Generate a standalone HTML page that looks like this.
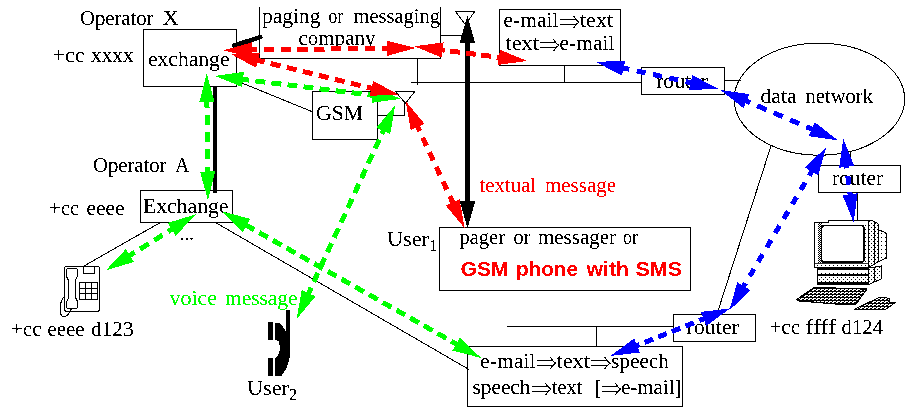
<!DOCTYPE html>
<html><head><meta charset="utf-8"><style>
html,body{margin:0;padding:0;background:#fff;}
svg{display:block;}
</style></head><body>
<svg width="918" height="419" viewBox="0 0 918 419" shape-rendering="crispEdges">
<rect x="143.5" y="29.5" width="93.0" height="57.0" fill="none" stroke="#000" stroke-width="1"/>
<line x1="259.5" y1="7" x2="259.5" y2="58.5" stroke="#000" stroke-width="1" />
<line x1="440.5" y1="7" x2="440.5" y2="58.5" stroke="#000" stroke-width="1" />
<line x1="259" y1="58.5" x2="441" y2="58.5" stroke="#000" stroke-width="1" />
<line x1="440" y1="35.5" x2="463" y2="35.5" stroke="#000" stroke-width="1" />
<polygon points="455.60,11.50 474.80,11.50 465.30,24.50" fill="none" stroke="#000" stroke-width="1"/>
<line x1="417.5" y1="58.5" x2="417.5" y2="84.5" stroke="#000" stroke-width="1" />
<line x1="411" y1="82.5" x2="641.5" y2="82.5" stroke="#000" stroke-width="1" />
<rect x="499.5" y="9.5" width="121.0" height="56.0" fill="none" stroke="#000" stroke-width="1"/>
<line x1="564.5" y1="65.5" x2="564.5" y2="82.5" stroke="#000" stroke-width="1" />
<rect x="641.5" y="67.5" width="83.0" height="27.0" fill="none" stroke="#000" stroke-width="1"/>
<line x1="724.5" y1="80.5" x2="740.8" y2="80.5" stroke="#000" stroke-width="1" />
<ellipse cx="819.4" cy="99.2" rx="85.3" ry="56" fill="none" stroke="#000" stroke-width="1"/>
<line x1="770.9" y1="146.2" x2="716.9" y2="314.3" stroke="#000" stroke-width="1" />
<line x1="850.5" y1="151.8" x2="850.5" y2="165.7" stroke="#000" stroke-width="1" />
<rect x="818.5" y="165.5" width="82.0" height="27.0" fill="none" stroke="#000" stroke-width="1"/>
<line x1="857.5" y1="192.5" x2="857.5" y2="221" stroke="#000" stroke-width="1" />
<rect x="673.5" y="314.5" width="82.0" height="26.5" fill="none" stroke="#000" stroke-width="1"/>
<line x1="507" y1="326.5" x2="673.5" y2="326.5" stroke="#000" stroke-width="1" />
<line x1="596.5" y1="326.5" x2="596.5" y2="346.6" stroke="#000" stroke-width="1" />
<rect x="467.5" y="346.5" width="215.0" height="60.0" fill="none" stroke="#000" stroke-width="1"/>
<rect x="439.5" y="227.5" width="251.0" height="63.0" fill="none" stroke="#000" stroke-width="1"/>
<rect x="312.5" y="91.5" width="65.0" height="48.0" fill="none" stroke="#000" stroke-width="1"/>
<polygon points="395.40,91.50 414.80,91.50 405.50,103.30" fill="none" stroke="#000" stroke-width="1"/>
<line x1="404.5" y1="103.3" x2="404.5" y2="115.5" stroke="#000" stroke-width="1" />
<line x1="377.5" y1="115.5" x2="404.5" y2="115.5" stroke="#000" stroke-width="1" />
<line x1="236.5" y1="80.8" x2="312" y2="111.6" stroke="#000" stroke-width="1" />
<rect x="140.5" y="190.5" width="92.0" height="32.0" fill="none" stroke="#000" stroke-width="1"/>
<line x1="160.3" y1="222.5" x2="83.7" y2="266.2" stroke="#000" stroke-width="1" />
<line x1="216" y1="222.8" x2="469" y2="369.5" stroke="#000" stroke-width="1" />

<defs>
<pattern id="dots" x="0" y="0" width="4" height="4" patternUnits="userSpaceOnUse">
<rect x="1" y="1" width="1" height="1" fill="#000"/>
</pattern>
<pattern id="dots2" x="0" y="0" width="4" height="4" patternUnits="userSpaceOnUse">
<rect x="1" y="1" width="1" height="1" fill="#000"/><rect x="3" y="3" width="1" height="1" fill="#000"/>
</pattern>
<pattern id="bevel" x="0" y="0" width="2" height="2" patternUnits="userSpaceOnUse">
<rect x="0" y="0" width="2" height="2" fill="#fff"/><rect x="0" y="0" width="1" height="1" fill="#000"/><rect x="1" y="1" width="1" height="1" fill="#000"/>
</pattern>
<pattern id="hatch" x="0" y="0" width="4" height="3" patternUnits="userSpaceOnUse">
<rect x="0" y="0" width="4" height="3" fill="#fff"/><rect x="0" y="0" width="4" height="1" fill="#000"/><rect x="0" y="1" width="1" height="1" fill="#000"/><rect x="2" y="2" width="1" height="1" fill="#000"/><rect x="3" y="2" width="1" height="1" fill="#000"/>
</pattern>
</defs>
<!-- phone -->
<g fill="none" stroke="#000" stroke-width="1.1">
<rect x="64.6" y="266.6" width="35" height="44.6" rx="1.5"/>
<rect x="83.8" y="266.6" width="10.4" height="6.8"/>
<path d="M79.8 282.8 H97.2 V299.4 H79.8 Z M85.6 282.8 V299.4 M91.4 282.8 V299.4 M79.8 288.4 H97.2 M79.8 293.9 H97.2"/>
<path d="M67.5 268.6 H76.6 Q77.8 268.8 77.8 270.5 L77.6 276 L75.6 279.5 L75.4 297.5 L77.4 301 L77.6 306.8 Q77.4 308.6 75.8 308.6 H68.2 Q66.6 308.4 66.6 306.6 L66.8 301.5 L68.2 298.6 L68.2 280 L66.6 276.4 L66.6 270.2 Q66.8 268.6 67.5 268.6 Z"/>
<path d="M64.6 296.2 C59 301 58.5 316.5 63.8 316.8 C67.5 317 69.8 312.5 71.4 308.8"/>
</g>
<!-- handset user2 -->
<g fill="#000">
<rect x="268" y="322" width="5" height="17.8"/>
<rect x="268" y="358" width="5" height="17.8"/>
<rect x="286.1" y="310.4" width="3.6" height="28"/>
<path d="M275 322.6 H279.8 L286 331.5 L289.6 337.5 L289.6 357 Q288.5 367 281.5 375.8 H275 V358 Q278.6 356 279.6 351 Q280 345 278.6 341.5 Q277 339.6 275 339.4 Z"/>
</g>
<!-- computer -->
<g stroke="#000">
<!-- monitor side -->
<path d="M868.5 220.5 H872 L874.7 222.2 L876.8 222.9 L878.6 224.3 V261.5 L868.5 267.5 Z" fill="url(#dots2)" stroke-width="1"/>
<line x1="874.7" y1="222" x2="874.7" y2="264" stroke-width="1"/>
<!-- monitor back -->
<path d="M878.6 230.4 H880 L883.6 231.8 L886.5 233.2 V258 L878.6 261.5 Z" fill="url(#dots)" stroke-width="1"/>
<!-- bezel -->
<path d="M814.5 222 H828 V220.5 H868.5 V267.5 H814.5 Z" fill="#fff" stroke-width="1"/>
<rect x="818" y="223" width="46" height="3" fill="url(#dots)" stroke="none"/>
<rect x="818" y="223" width="3.5" height="40" fill="url(#bevel)" stroke="none"/>
<rect x="864.5" y="223" width="3.5" height="40" fill="url(#dots)" stroke="none"/>
<path d="M824 225.5 H861 Q864 225.5 864 228.5 V259 Q864 262 861 262 H824 Q821.5 262 821.5 259 V228.5 Q821.5 225.5 824 225.5 Z" fill="#fff" stroke-width="1.6"/>
<rect x="815" y="263.6" width="53" height="3.6" fill="url(#dots)" stroke="none"/>
<line x1="814.5" y1="263.5" x2="868.5" y2="263.5" stroke-width="0.8"/>
<!-- base unit -->
<path d="M868.1 268.2 L881 266 V279 L868.1 284.7 Z" fill="url(#dots2)" stroke-width="1"/>
<line x1="874.5" y1="267.5" x2="874.5" y2="282" stroke-width="1"/>
<rect x="817.5" y="268.2" width="50.6" height="16.2" fill="#fff" stroke-width="1"/>
<rect x="817.5" y="268" width="50.6" height="2.4" fill="#000" stroke="none"/>
<rect x="818" y="270.4" width="50" height="4" fill="url(#dots)" stroke="none"/>
<rect x="817.5" y="274.2" width="50.6" height="2" fill="#000" stroke="none"/>
<rect x="818" y="276.2" width="50" height="6" fill="url(#dots2)" stroke="none"/>
<rect x="817.5" y="282.2" width="50.6" height="2.2" fill="#000" stroke="none"/>
<!-- keyboard -->
<path d="M814.2 287.4 L866.9 289.1 L855.5 304.7 L844 304.7 L798.3 300.8 L797 299.3 Z" fill="url(#hatch)" stroke-width="1.2"/>
<!-- mouse pad -->
<path d="M854.2 309.5 H885.3 L895.8 302.3 H889.5 V299 L886 297.8 H878.2 Z" fill="url(#hatch)" stroke-width="1"/>
</g>

<defs><filter id="th" x="0" y="0" width="918" height="419" filterUnits="userSpaceOnUse"><feComponentTransfer><feFuncA type="discrete" tableValues="0 0 0 0 0 0 0 0 0 1 1 1 1 1 1 1 1 1 1 1"/></feComponentTransfer></filter></defs><g filter="url(#th)">
<text x="80.0" y="25" font-family="Liberation Serif" font-size="20" font-weight="normal" fill="#000" textLength="73.5" lengthAdjust="spacingAndGlyphs" >Operator</text>
<text x="162.5" y="25" font-family="Liberation Serif" font-size="20" font-weight="normal" fill="#000" textLength="16.5" lengthAdjust="spacingAndGlyphs" >X</text>
<text x="52.5" y="62" font-family="Liberation Serif" font-size="20" font-weight="normal" fill="#000" textLength="32.0" lengthAdjust="spacingAndGlyphs" >+cc</text>
<text x="91.0" y="62" font-family="Liberation Serif" font-size="20" font-weight="normal" fill="#000" textLength="42.5" lengthAdjust="spacingAndGlyphs" >xxxx</text>
<text x="148.0" y="65.6" font-family="Liberation Serif" font-size="20" font-weight="normal" fill="#000" textLength="81.5" lengthAdjust="spacingAndGlyphs" >exchange</text>
<text x="262.0" y="23.3" font-family="Liberation Serif" font-size="20" font-weight="normal" fill="#000" textLength="58.5" lengthAdjust="spacingAndGlyphs" >paging</text>
<text x="328.5" y="23.3" font-family="Liberation Serif" font-size="20" font-weight="normal" fill="#000" textLength="14.5" lengthAdjust="spacingAndGlyphs" >or</text>
<text x="353.5" y="23.3" font-family="Liberation Serif" font-size="20" font-weight="normal" fill="#000" textLength="86.5" lengthAdjust="spacingAndGlyphs" >messaging</text>
<text x="298.5" y="45.3" font-family="Liberation Serif" font-size="20" font-weight="normal" fill="#000" textLength="77.0" lengthAdjust="spacingAndGlyphs" >company</text>
<text x="503.5" y="26.9" font-family="Liberation Serif" font-size="20" font-weight="normal" fill="#000" textLength="55.0" lengthAdjust="spacingAndGlyphs" >e-mail</text>
<text x="580.0" y="26.9" font-family="Liberation Serif" font-size="20" font-weight="normal" fill="#000" textLength="33.0" lengthAdjust="spacingAndGlyphs" >text</text>
<text x="505.5" y="49.9" font-family="Liberation Serif" font-size="20" font-weight="normal" fill="#000" textLength="33.5" lengthAdjust="spacingAndGlyphs" >text</text>
<text x="559.5" y="49.9" font-family="Liberation Serif" font-size="20" font-weight="normal" fill="#000" textLength="55.0" lengthAdjust="spacingAndGlyphs" >e-mail</text>
<text x="656.0" y="88" font-family="Liberation Serif" font-size="20" font-weight="normal" fill="#000" textLength="52.0" lengthAdjust="spacingAndGlyphs" >router</text>
<text x="760.5" y="103" font-family="Liberation Serif" font-size="20" font-weight="normal" fill="#000" textLength="36.0" lengthAdjust="spacingAndGlyphs" >data</text>
<text x="805.5" y="103" font-family="Liberation Serif" font-size="20" font-weight="normal" fill="#000" textLength="67.5" lengthAdjust="spacingAndGlyphs" >network</text>
<text x="832.0" y="185.2" font-family="Liberation Serif" font-size="20" font-weight="normal" fill="#000" textLength="51.0" lengthAdjust="spacingAndGlyphs" >router</text>
<text x="769.5" y="333.5" font-family="Liberation Serif" font-size="20" font-weight="normal" fill="#000" textLength="30.5" lengthAdjust="spacingAndGlyphs" >+cc</text>
<text x="805.5" y="333.5" font-family="Liberation Serif" font-size="20" font-weight="normal" fill="#000" textLength="30.5" lengthAdjust="spacingAndGlyphs" >ffff</text>
<text x="841.5" y="333.5" font-family="Liberation Serif" font-size="20" font-weight="normal" fill="#000" textLength="41.5" lengthAdjust="spacingAndGlyphs" >d124</text>
<text x="686.5" y="334.2" font-family="Liberation Serif" font-size="20" font-weight="normal" fill="#000" textLength="52.5" lengthAdjust="spacingAndGlyphs" >router</text>
<text x="480.0" y="367.5" font-family="Liberation Serif" font-size="20" font-weight="normal" fill="#000" textLength="55.5" lengthAdjust="spacingAndGlyphs" >e-mail</text>
<text x="556.5" y="367.5" font-family="Liberation Serif" font-size="20" font-weight="normal" fill="#000" textLength="33.5" lengthAdjust="spacingAndGlyphs" >text</text>
<text x="611.0" y="367.5" font-family="Liberation Serif" font-size="20" font-weight="normal" fill="#000" textLength="58.0" lengthAdjust="spacingAndGlyphs" >speech</text>
<text x="472.5" y="393.5" font-family="Liberation Serif" font-size="20" font-weight="normal" fill="#000" textLength="58.0" lengthAdjust="spacingAndGlyphs" >speech</text>
<text x="552.0" y="393.5" font-family="Liberation Serif" font-size="20" font-weight="normal" fill="#000" textLength="30.0" lengthAdjust="spacingAndGlyphs" >text</text>
<text x="594.5" y="393.5" font-family="Liberation Serif" font-size="20" font-weight="normal" fill="#000" textLength="7.0" lengthAdjust="spacingAndGlyphs" >[</text>
<text x="621.0" y="393.5" font-family="Liberation Serif" font-size="20" font-weight="normal" fill="#000" textLength="60.5" lengthAdjust="spacingAndGlyphs" >e-mail]</text>
<text x="387.0" y="246" font-family="Liberation Serif" font-size="20" font-weight="normal" fill="#000" textLength="42.0" lengthAdjust="spacingAndGlyphs" >User</text>
<text x="429.0" y="250.8" font-family="Liberation Serif" font-size="17.5" font-weight="normal" fill="#000" textLength="8.0" lengthAdjust="spacingAndGlyphs" >1</text>
<text x="459.5" y="244" font-family="Liberation Serif" font-size="20" font-weight="normal" fill="#000" textLength="45.5" lengthAdjust="spacingAndGlyphs" >pager</text>
<text x="513.5" y="244" font-family="Liberation Serif" font-size="20" font-weight="normal" fill="#000" textLength="17.0" lengthAdjust="spacingAndGlyphs" >or</text>
<text x="538.0" y="244" font-family="Liberation Serif" font-size="20" font-weight="normal" fill="#000" textLength="78.0" lengthAdjust="spacingAndGlyphs" >messager</text>
<text x="623.0" y="244" font-family="Liberation Serif" font-size="20" font-weight="normal" fill="#000" textLength="15.0" lengthAdjust="spacingAndGlyphs" >or</text>
<text x="460.5" y="275.6" font-family="Liberation Sans" font-size="20" font-weight="bold" fill="#ff0000" textLength="48.0" lengthAdjust="spacingAndGlyphs" >GSM</text>
<text x="516.0" y="275.6" font-family="Liberation Sans" font-size="20" font-weight="bold" fill="#ff0000" textLength="62.0" lengthAdjust="spacingAndGlyphs" >phone</text>
<text x="586.5" y="275.6" font-family="Liberation Sans" font-size="20" font-weight="bold" fill="#ff0000" textLength="42.5" lengthAdjust="spacingAndGlyphs" >with</text>
<text x="635.5" y="275.6" font-family="Liberation Sans" font-size="20" font-weight="bold" fill="#ff0000" textLength="46.5" lengthAdjust="spacingAndGlyphs" >SMS</text>
<text x="479.5" y="192" font-family="Liberation Serif" font-size="20" font-weight="normal" fill="#ff0000" textLength="56.5" lengthAdjust="spacingAndGlyphs" >textual</text>
<text x="545.0" y="192" font-family="Liberation Serif" font-size="20" font-weight="normal" fill="#ff0000" textLength="71.0" lengthAdjust="spacingAndGlyphs" >message</text>
<text x="316.0" y="119.6" font-family="Liberation Serif" font-size="20" font-weight="normal" fill="#000" textLength="47.0" lengthAdjust="spacingAndGlyphs" >GSM</text>
<text x="93.0" y="171.8" font-family="Liberation Serif" font-size="20" font-weight="normal" fill="#000" textLength="73.5" lengthAdjust="spacingAndGlyphs" >Operator</text>
<text x="175.0" y="171.8" font-family="Liberation Serif" font-size="20" font-weight="normal" fill="#000" textLength="14.5" lengthAdjust="spacingAndGlyphs" >A</text>
<text x="49.0" y="215" font-family="Liberation Serif" font-size="20" font-weight="normal" fill="#000" textLength="30.0" lengthAdjust="spacingAndGlyphs" >+cc</text>
<text x="86.5" y="215" font-family="Liberation Serif" font-size="20" font-weight="normal" fill="#000" textLength="38.0" lengthAdjust="spacingAndGlyphs" >eeee</text>
<text x="143.0" y="213" font-family="Liberation Serif" font-size="20" font-weight="normal" fill="#000" textLength="85.5" lengthAdjust="spacingAndGlyphs" >Exchange</text>
<text x="180.0" y="240" font-family="Liberation Serif" font-size="20" font-weight="normal" fill="#000" textLength="14.0" lengthAdjust="spacingAndGlyphs" >...</text>
<text x="11.0" y="336.3" font-family="Liberation Serif" font-size="20" font-weight="normal" fill="#000" textLength="30.5" lengthAdjust="spacingAndGlyphs" >+cc</text>
<text x="47.5" y="336.3" font-family="Liberation Serif" font-size="20" font-weight="normal" fill="#000" textLength="37.0" lengthAdjust="spacingAndGlyphs" >eeee</text>
<text x="91.0" y="336.3" font-family="Liberation Serif" font-size="20" font-weight="normal" fill="#000" textLength="42.5" lengthAdjust="spacingAndGlyphs" >d123</text>
<text x="169.5" y="304.8" font-family="Liberation Serif" font-size="20" font-weight="normal" fill="#00ff00" textLength="47.5" lengthAdjust="spacingAndGlyphs" >voice</text>
<text x="225.0" y="304.8" font-family="Liberation Serif" font-size="20" font-weight="normal" fill="#00ff00" textLength="72.5" lengthAdjust="spacingAndGlyphs" >message</text>
<text x="247.0" y="395" font-family="Liberation Serif" font-size="20" font-weight="normal" fill="#000" textLength="42.0" lengthAdjust="spacingAndGlyphs" >User</text>
<text x="289.0" y="399.8" font-family="Liberation Serif" font-size="17" font-weight="normal" fill="#000" textLength="8.0" lengthAdjust="spacingAndGlyphs" >2</text>
</g>
<path d="M560.20 19.50 H576.20 M560.20 24.50 H576.20 M573.80 16.00 Q575.40 19.80 579.00 22.10 Q575.40 24.40 573.80 27.90" fill="none" stroke="#000" stroke-width="1.1"/>
<path d="M539.90 42.70 H555.90 M539.90 47.70 H555.90 M553.50 39.20 Q555.10 43.00 558.70 45.30 Q555.10 47.60 553.50 51.10" fill="none" stroke="#000" stroke-width="1.1"/>
<path d="M536.80 360.60 H552.80 M536.80 365.60 H552.80 M550.40 357.10 Q552.00 360.90 555.60 363.20 Q552.00 365.50 550.40 369.00" fill="none" stroke="#000" stroke-width="1.1"/>
<path d="M591.20 360.60 H607.20 M591.20 365.60 H607.20 M604.80 357.10 Q606.40 360.90 610.00 363.20 Q606.40 365.50 604.80 369.00" fill="none" stroke="#000" stroke-width="1.1"/>
<path d="M532.00 386.60 H548.00 M532.00 391.60 H548.00 M545.60 383.10 Q547.20 386.90 550.80 389.20 Q547.20 391.50 545.60 395.00" fill="none" stroke="#000" stroke-width="1.1"/>
<path d="M601.80 386.60 H617.80 M601.80 391.60 H617.80 M615.40 383.10 Q617.00 386.90 620.60 389.20 Q617.00 391.50 615.40 395.00" fill="none" stroke="#000" stroke-width="1.1"/>
<line x1="234.1" y1="45.5" x2="260.3" y2="37.1" stroke="#000" stroke-width="4.5" stroke-linecap="round"/>
<line x1="215" y1="86" x2="215" y2="192.6" stroke="#000" stroke-width="4" />
<line x1="467.5" y1="40" x2="467.5" y2="204" stroke="#000" stroke-width="5" />
<polygon points="467.40,15.60 475.21,43.10 459.61,43.10" fill="#000" stroke="none" stroke-width="1"/>
<polygon points="467.50,228.30 459.69,200.80 475.29,200.80" fill="#000" stroke="none" stroke-width="1"/>
<line x1="231.09" y1="77.93" x2="384.41" y2="96.77" stroke="#00ff00" stroke-width="5" stroke-dasharray="10 6.15" stroke-dashoffset="7.80"/>
<polygon points="214.71,75.92 243.93,71.85 242.07,86.94" fill="#00ff00" stroke="none" stroke-width="1"/>
<polygon points="400.79,98.78 371.57,102.85 373.43,87.76" fill="#00ff00" stroke="none" stroke-width="1"/>
<line x1="206.85" y1="90.00" x2="207.75" y2="183.50" stroke="#00ff00" stroke-width="5" stroke-dasharray="10 7.20" stroke-dashoffset="9.40"/>
<polygon points="206.69,73.50 214.56,101.92 199.36,102.07" fill="#00ff00" stroke="none" stroke-width="1"/>
<polygon points="207.91,200.00 200.04,171.58 215.24,171.43" fill="#00ff00" stroke="none" stroke-width="1"/>
<line x1="119.73" y1="261.77" x2="181.87" y2="223.03" stroke="#00ff00" stroke-width="5" stroke-dasharray="10 6.40" stroke-dashoffset="8.70"/>
<polygon points="105.73,270.49 125.89,248.97 133.93,261.87" fill="#00ff00" stroke="none" stroke-width="1"/>
<polygon points="195.87,214.31 175.71,235.83 167.67,222.93" fill="#00ff00" stroke="none" stroke-width="1"/>
<line x1="236.06" y1="219.48" x2="466.64" y2="349.82" stroke="#00ff00" stroke-width="5" stroke-dasharray="10 5.76" stroke-dashoffset="4.97"/>
<polygon points="221.69,211.36 250.24,218.77 242.77,232.00" fill="#00ff00" stroke="none" stroke-width="1"/>
<polygon points="481.01,357.94 452.46,350.53 459.93,337.30" fill="#00ff00" stroke="none" stroke-width="1"/>
<line x1="303.57" y1="304.08" x2="388.33" y2="120.02" stroke="#00ff00" stroke-width="5" stroke-dasharray="10 6.30" stroke-dashoffset="8.20"/>
<polygon points="296.67,319.06 301.69,290.00 315.50,296.35" fill="#00ff00" stroke="none" stroke-width="1"/>
<polygon points="395.23,105.04 390.21,134.10 376.40,127.75" fill="#00ff00" stroke="none" stroke-width="1"/>
<line x1="240.10" y1="50.12" x2="399.20" y2="48.18" stroke="#ff0000" stroke-width="5" stroke-dasharray="10.2 6.67" stroke-dashoffset="10.14"/>
<polygon points="223.60,50.32 252.01,42.37 252.19,57.57" fill="#ff0000" stroke="none" stroke-width="1"/>
<polygon points="415.70,47.98 387.29,55.93 387.11,40.73" fill="#ff0000" stroke="none" stroke-width="1"/>
<line x1="430.67" y1="48.44" x2="510.83" y2="58.86" stroke="#ff0000" stroke-width="5" stroke-dasharray="10 5.60" stroke-dashoffset="11.40"/>
<polygon points="414.31,46.31 443.55,42.45 441.59,57.52" fill="#ff0000" stroke="none" stroke-width="1"/>
<polygon points="527.19,60.99 497.95,64.85 499.91,49.78" fill="#ff0000" stroke="none" stroke-width="1"/>
<line x1="246.27" y1="57.57" x2="383.13" y2="91.13" stroke="#ff0000" stroke-width="5" stroke-dasharray="10 6.50" stroke-dashoffset="7.80"/>
<polygon points="230.24,53.64 259.73,53.05 256.11,67.81" fill="#ff0000" stroke="none" stroke-width="1"/>
<polygon points="399.16,95.06 369.67,95.65 373.29,80.89" fill="#ff0000" stroke="none" stroke-width="1"/>
<line x1="412.62" y1="116.11" x2="457.68" y2="213.19" stroke="#ff0000" stroke-width="5" stroke-dasharray="9 7.07" stroke-dashoffset="8.34"/>
<polygon points="405.67,101.14 424.56,123.79 410.77,130.19" fill="#ff0000" stroke="none" stroke-width="1"/>
<polygon points="464.63,228.16 445.74,205.51 459.53,199.11" fill="#ff0000" stroke="none" stroke-width="1"/>
<line x1="611.86" y1="65.49" x2="702.34" y2="85.21" stroke="#0000ff" stroke-width="5" stroke-dasharray="9 7.70" stroke-dashoffset="8.00"/>
<polygon points="595.73,61.98 625.20,60.62 621.96,75.47" fill="#0000ff" stroke="none" stroke-width="1"/>
<polygon points="718.47,88.72 689.00,90.08 692.24,75.23" fill="#0000ff" stroke="none" stroke-width="1"/>
<line x1="735.48" y1="96.41" x2="822.82" y2="133.89" stroke="#0000ff" stroke-width="5" stroke-dasharray="10 7.80" stroke-dashoffset="11.90"/>
<polygon points="720.32,89.91 749.51,94.16 743.52,108.13" fill="#0000ff" stroke="none" stroke-width="1"/>
<polygon points="837.98,140.39 808.79,136.14 814.78,122.17" fill="#0000ff" stroke="none" stroke-width="1"/>
<line x1="845.24" y1="154.89" x2="851.56" y2="206.11" stroke="#0000ff" stroke-width="5" stroke-dasharray="9 7.50" stroke-dashoffset="12.00"/>
<polygon points="843.22,138.51 854.25,165.87 839.17,167.73" fill="#0000ff" stroke="none" stroke-width="1"/>
<polygon points="853.58,222.49 842.55,195.13 857.63,193.27" fill="#0000ff" stroke="none" stroke-width="1"/>
<line x1="817.85" y1="161.11" x2="737.65" y2="296.49" stroke="#0000ff" stroke-width="5" stroke-dasharray="8.5 8.20" stroke-dashoffset="8.40"/>
<polygon points="826.26,146.91 818.28,175.30 805.20,167.56" fill="#0000ff" stroke="none" stroke-width="1"/>
<polygon points="729.24,310.69 737.22,282.30 750.30,290.04" fill="#0000ff" stroke="none" stroke-width="1"/>
<line x1="714.66" y1="314.54" x2="625.84" y2="349.86" stroke="#0000ff" stroke-width="5" stroke-dasharray="9 5.70" stroke-dashoffset="7.10"/>
<polygon points="729.99,308.45 706.32,326.04 700.70,311.91" fill="#0000ff" stroke="none" stroke-width="1"/>
<polygon points="610.51,355.95 634.18,338.36 639.80,352.49" fill="#0000ff" stroke="none" stroke-width="1"/>
</svg>
</body></html>
